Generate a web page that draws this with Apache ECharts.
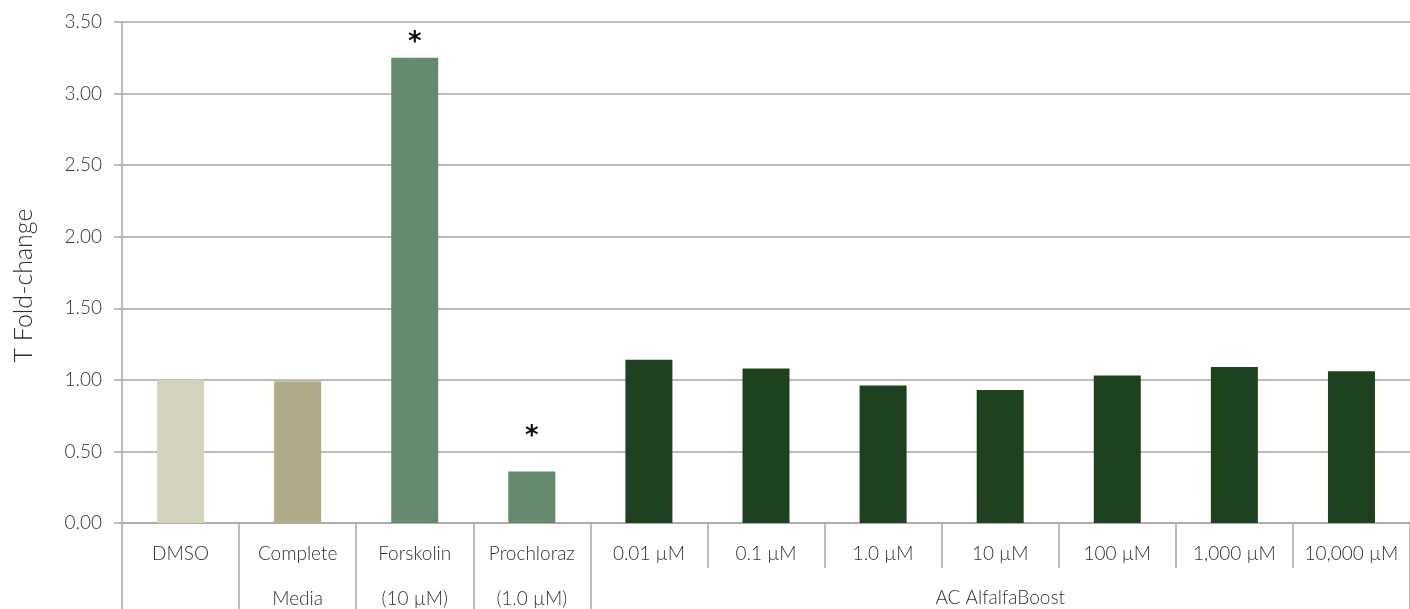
<!DOCTYPE html>
<html><head><meta charset="utf-8">
<script src="https://cdn.jsdelivr.net/npm/echarts@6/dist/echarts.min.js"></script>
<style>html,body{margin:0;padding:0;background:#fff}#c{width:1410px;height:609px}</style>
</head><body><div id="c"></div>
<script>
const categories = ['DMSO', 'Complete\nMedia', 'Forskolin\n(10 µM)', 'Prochloraz\n(1.0 µM)', '0.01 µM', '0.1 µM', '1.0 µM', '10 µM', '100 µM', '1,000 µM', '10,000 µM'];
const values = [1.00, 0.99, 3.25, 0.36, 1.14, 1.08, 0.96, 0.93, 1.03, 1.09, 1.06];
const significant = [false, false, true, true, false, false, false, false, false, false, false];
const groupLabel = 'AC AlfalfaBoost';
const groupStart = 4;
const yTicks = [0, 0.5, 1, 1.5, 2, 2.5, 3, 3.5];
const yName = 'T Fold-change';

const barColors = ['#d2d2bd', '#b1ac87', '#668a6e', '#668a6e', '#1e4220', '#1e4220', '#1e4220', '#1e4220', '#1e4220', '#1e4220', '#1e4220'];
const starGap = [6, 6, 2, 21, 6, 6, 6, 6, 6, 6, 6];
const FONT = 'Lato';
const TXT = '#303030';
const LINE = '#a6a6a6';

const groupMid = Math.floor((groupStart + categories.length - 1) / 2);

const chart = echarts.init(document.getElementById('c'));
chart.setOption({
  animation: false,
  grid: { left: 122, right: 0, top: 22, bottom: 86, containLabel: false, outerBoundsMode: 'none' },
  xAxis: [{
    type: 'category', data: categories, position: 'bottom',
    axisLine: { lineStyle: { color: LINE, width: 1.5 } },
    axisTick: { show: true, length: 45, lineStyle: { color: LINE, width: 1.5 } },
    axisLabel: { interval: 0, margin: 8, fontFamily: FONT, fontSize: 19, fontWeight: 300, color: TXT, lineHeight: 45 }
  }, {
    type: 'category', data: categories, position: 'bottom', gridIndex: 0,
    axisLine: { show: false },
    axisTick: { show: true, length: 90, interval: (i) => i <= groupStart, lineStyle: { color: LINE, width: 1.5 } },
    axisLabel: { interval: 0, margin: 65, fontFamily: FONT, fontSize: 19, fontWeight: 300, color: TXT, lineHeight: 20,
      formatter: (v, i) => i === groupMid ? groupLabel : '' }
  }],
  yAxis: {
    type: 'value', min: yTicks[0], max: yTicks[yTicks.length - 1], interval: 0.5,
    name: yName, nameLocation: 'middle', nameGap: 86, nameRotate: 90,
    nameTextStyle: { fontFamily: FONT, fontSize: 25, fontWeight: 300, color: TXT, padding: [0, 26, 0, 0] },
    axisLine: { show: true, lineStyle: { color: LINE, width: 1.5 } },
    axisTick: { show: true, length: 8, lineStyle: { color: LINE, width: 1.5 } },
    splitLine: { lineStyle: { color: LINE, width: 1.5 } },
    axisLabel: { margin: 20, fontFamily: FONT, fontSize: 19, fontWeight: 300, color: TXT, formatter: v => v.toFixed(2) }
  },
  series: [{
    type: 'bar', xAxisIndex: 0, barWidth: 47,
    data: values.map((v, i) => ({
      value: v,
      itemStyle: { color: barColors[i] },
      label: { show: significant[i], position: 'top', distance: starGap[i], formatter: '*', fontSize: 26, fontWeight: 'bold', color: '#111', fontFamily: 'DejaVu Sans' }
    }))
  }]
});
</script></body></html>
